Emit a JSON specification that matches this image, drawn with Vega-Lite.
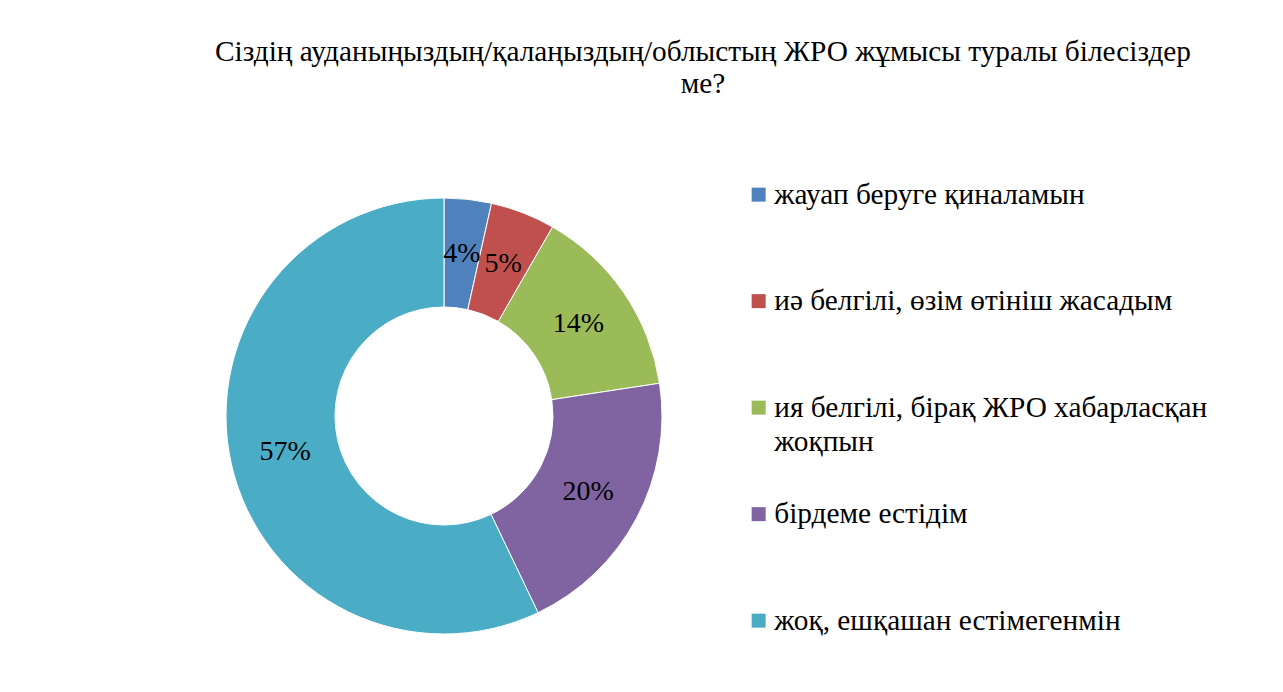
{
  "$schema": "https://vega.github.io/schema/vega-lite/v6.json",
  "width": 436,
  "height": 436,
  "autosize": {"type": "none"},
  "padding": {"left": 226, "top": 198, "right": 621, "bottom": 58},
  "background": "white",
  "config": {
    "legend": {"labelFont": "Liberation Serif", "labelFontSize": 29.3, "labelColor": "#000000"},
    "style": {"guide-label": {"font": "Liberation Serif", "fontSize": 29.3, "lineHeight": 34}}
  },
  "title": {
    "text": ["Сіздің ауданыңыздың/қалаңыздың/облыстың ЖРО жұмысы туралы білесіздер", "ме?"],
    "font": "Liberation Serif",
    "fontSize": 29.3,
    "fontWeight": "normal",
    "color": "#000000",
    "anchor": "middle",
    "dx": 259,
    "offset": 81,
    "lineHeight": 32
  },
  "data": {
    "values": [
      {"answer": "жауап беруге қиналамын", "value": 3.5, "label": "4%", "order": 1},
      {"answer": "иә белгілі, өзім өтініш жасадым", "value": 4.8, "label": "5%", "order": 2},
      {"answer": "ия белгілі, бірақ ЖРО хабарласқан жоқпын", "value": 14.3, "label": "14%", "order": 3},
      {"answer": "бірдеме естідім", "value": 20.3, "label": "20%", "order": 4},
      {"answer": "жоқ, ешқашан естімегенмін", "value": 57.1, "label": "57%", "order": 5}
    ]
  },
  "encoding": {
    "theta": {"field": "value", "type": "quantitative", "stack": true},
    "order": {"field": "order", "type": "quantitative"}
  },
  "layer": [
    {
      "mark": {"type": "arc", "innerRadius": 109, "outerRadius": 218, "stroke": "white", "strokeWidth": 1},
      "encoding": {
        "color": {
          "field": "answer",
          "type": "nominal",
          "scale": {
            "domain": ["жауап беруге қиналамын", "иә белгілі, өзім өтініш жасадым", "ия белгілі, бірақ ЖРО хабарласқан жоқпын", "бірдеме естідім", "жоқ, ешқашан естімегенмін"],
            "range": ["#4F81BD", "#C0504D", "#9BBB59", "#8064A2", "#4BACC6"]
          },
          "legend": {
            "orient": "none",
            "legendX": 518,
            "legendY": -18,
            "title": null,
            "symbolType": "square",
            "symbolSize": 196,
            "symbolStrokeWidth": 0,
            "labelFont": "Liberation Serif",
            "labelFontSize": 29.3,
            "labelColor": "#000000",
            "labelLimit": 0,
            "labelOffset": 1,
            "rowPadding": 42.5,
            "padding": 0,
            "labelExpr": "datum.label == 'ия белгілі, бірақ ЖРО хабарласқан жоқпын' ? ['ия белгілі, бірақ ЖРО хабарласқан', 'жоқпын'] : [datum.label, ' ']"
          }
        }
      }
    },
    {
      "mark": {"type": "text", "radius": 163, "font": "Liberation Serif", "fontSize": 28, "color": "#000000"},
      "encoding": {
        "text": {"field": "label", "type": "nominal"}
      }
    }
  ]
}
